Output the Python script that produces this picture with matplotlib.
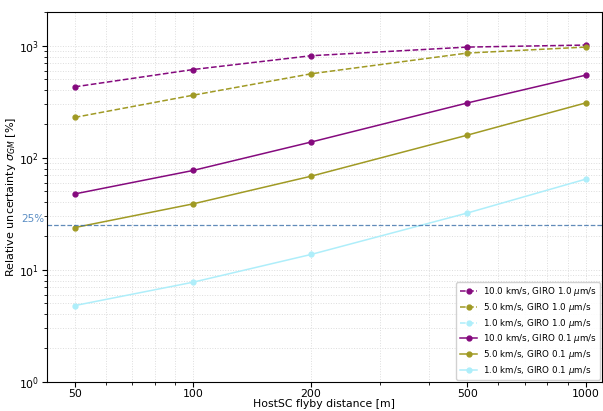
import matplotlib.pyplot as plt
import matplotlib.ticker as mticker
import matplotlib.transforms as mtransforms
import numpy as np

distances = [50, 100, 200, 500, 1000]

# GIRO 1.0 um/s
unc_10_giro10 = [429, 612, 813, 971, 1012]
unc_5_giro10 = [229, 361, 561, 859, 971]
unc_1_giro10 = [np.nan, np.nan, np.nan, np.nan, np.nan]  # not visible in plot

# GIRO 0.1 um/s
unc_10_giro01 = [47.5, 76.9, 138, 308, 545]
unc_5_giro01 = [23.8, 38.7, 68.4, 159, 308]
unc_1_giro01 = [4.79, 7.74, 13.7, 32.1, 64.3]

threshold = 25

c_purple = "#850a7e"
c_olive = "#a09a24"
c_cyan = "#aeeefa"

fig, ax = plt.subplots(figsize=(6.03, 4.11), dpi=100)
fig.subplots_adjust(left=0.078, right=0.998, top=0.971, bottom=0.071)

ax.plot(distances, unc_10_giro10, "--o", color=c_purple, ms=3.5, lw=1.1,
        label=r"10.0 km/s, GIRO 1.0 $\mu$m/s")
ax.plot(distances, unc_5_giro10, "--o", color=c_olive, ms=3.5, lw=1.1,
        label=r"5.0 km/s, GIRO 1.0 $\mu$m/s")
ax.plot(distances, unc_1_giro10, "--o", color=c_cyan, ms=3.5, lw=1.1,
        label=r"1.0 km/s, GIRO 1.0 $\mu$m/s")
ax.plot(distances, unc_10_giro01, "-o", color=c_purple, ms=3.5, lw=1.1,
        label=r"10.0 km/s, GIRO 0.1 $\mu$m/s")
ax.plot(distances, unc_5_giro01, "-o", color=c_olive, ms=3.5, lw=1.1,
        label=r"5.0 km/s, GIRO 0.1 $\mu$m/s")
ax.plot(distances, unc_1_giro01, "-o", color=c_cyan, ms=3.5, lw=1.1,
        label=r"1.0 km/s, GIRO 0.1 $\mu$m/s")

ax.axhline(threshold, color="#3a6ea8", ls="--", lw=0.9, alpha=0.8)
trans = mtransforms.blended_transform_factory(ax.transAxes, ax.transData)
ax.text(-0.005, threshold * 1.02, f"{threshold}%", transform=trans, ha="right",
        va="bottom", color="#5b8ec4", fontsize=7.5)

ax.set_xscale("log")
ax.set_yscale("log")
ax.set_xlim(42.5, 1100)
ax.set_ylim(1, 2000)
ax.set_xticks(distances)
ax.xaxis.set_major_formatter(mticker.FormatStrFormatter("%d"))
ax.xaxis.set_minor_formatter(mticker.NullFormatter())

ax.grid(True, which="both", ls=":", color="#dddddd", lw=0.7)
ax.tick_params(labelsize=7.8, pad=2)
ax.set_xlabel("HostSC flyby distance [m]", fontsize=7.8, labelpad=0)
ax.set_ylabel(r"Relative uncertainty $\sigma_{GM}$ [%]", fontsize=8, labelpad=1)

ax.legend(loc="lower right", fontsize=6.3, borderaxespad=0.2, framealpha=0.9,
          labelspacing=0.3, handlelength=2.0, handletextpad=0.6)

plt.savefig("out.png", dpi=100)
